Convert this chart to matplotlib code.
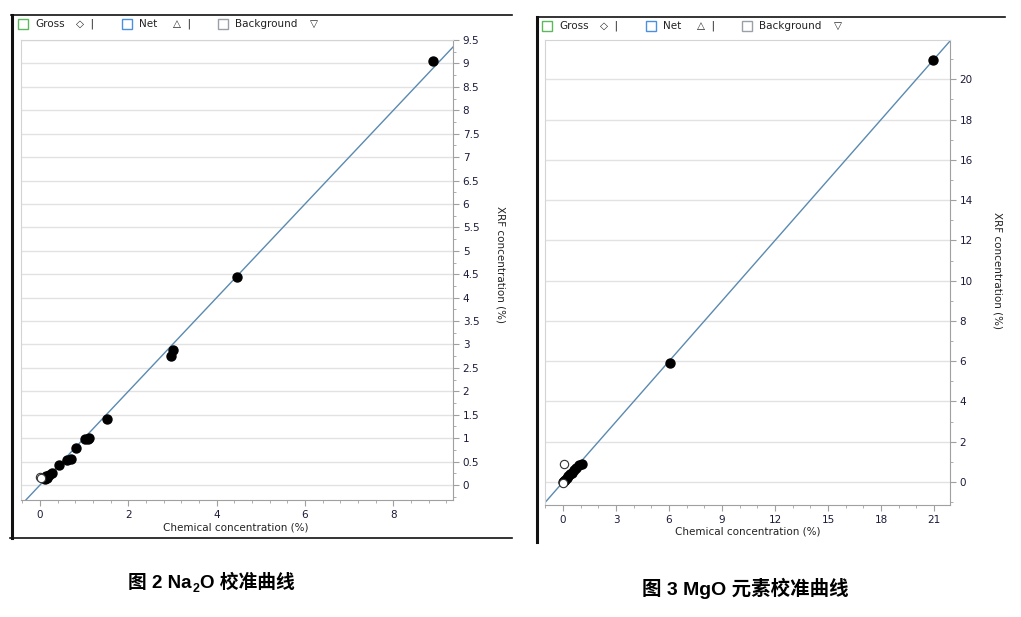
import matplotlib
matplotlib.use("Agg")
import matplotlib.pyplot as plt
from matplotlib.ticker import MultipleLocator, FormatStrFormatter
from matplotlib.patches import Rectangle
from matplotlib.lines import Line2D

W, H = 1021, 617

# Na2O calibration points (chemical %, XRF %)
na_x = [8.9, 4.46, 3.01, 2.96, 1.52, 1.02, 1.08, 1.1, 0.81, 0.7, 0.61, 0.43, 0.27, 0.2, 0.16, 0.11, 0.14]
na_y = [9.06, 4.44, 2.88, 2.76, 1.41, 0.98, 0.98, 1.0, 0.79, 0.56, 0.53, 0.43, 0.26, 0.21, 0.15, 0.13, 0.2]
na_open_x = [0.0, 0.03]
na_open_y = [0.17, 0.15]

# MgO calibration points
mg_x = [20.94, 6.06, 1.05, 0.9, 0.75, 0.6, 0.5, 0.4, 0.3, 0.2, 0.12, 0.05, 0.0]
mg_y = [20.95, 5.92, 0.88, 0.85, 0.7, 0.6, 0.45, 0.38, 0.3, 0.18, 0.1, 0.05, 0.02]
mg_open_x = [0.06, 0.02]
mg_open_y = [0.9, -0.05]

fit_slope = 1.0
fit_intercept = 0.0

# caption 1 is split in pieces: (text, size, baseline shift in px)
caption1_parts = [("图 2 Na", 13.5, 0), ("2", 9, -4), ("O 校准曲线", 13.5, 0)]
caption2 = "图 3 MgO 元素校准曲线"
legend_items = ["Gross", "Net", "Background"]

fig = plt.figure(figsize=(W / 100, H / 100), dpi=100)


def px_axes(l, t, r, b):
    return fig.add_axes([l / W, 1 - b / H, (r - l) / W, (b - t) / H])


def fx(x):
    return x / W


def fy(y):
    return 1 - y / H


def style_axes(ax, xlim, ylim, xmaj, xmin, ymaj, ymin):
    ax.set_xlim(*xlim)
    ax.set_ylim(*ylim)
    ax.xaxis.set_major_locator(MultipleLocator(xmaj))
    ax.xaxis.set_minor_locator(MultipleLocator(xmin))
    ax.yaxis.set_major_locator(MultipleLocator(ymaj))
    ax.yaxis.set_minor_locator(MultipleLocator(ymin))
    ax.xaxis.set_major_formatter(FormatStrFormatter("%g"))
    ax.yaxis.set_major_formatter(FormatStrFormatter("%g"))
    ax.yaxis.tick_right()
    ax.tick_params(which="both", direction="out", color="#a0a0a0", labelcolor="#1a1a3a", labelsize=7.5)
    ax.tick_params(which="major", length=4, pad=3)
    ax.tick_params(which="minor", length=2.5)
    ax.grid(axis="y", which="major", color="#e2e2e2", lw=1)
    ax.set_axisbelow(True)
    for s in ["top", "left"]:
        ax.spines[s].set_color("#d4d4d4")
    for s in ["right", "bottom"]:
        ax.spines[s].set_color("#a0a0a0")
    ax.axline((0, fit_intercept), slope=fit_slope, color="#5a8ab0", lw=1, zorder=2)


# ---- left panel: Na2O ----
ax1 = px_axes(21, 40, 453, 500)
style_axes(ax1, (-0.43, 9.35), (-0.32, 9.5), 2, 0.4, 0.5, 0.25)
ax1.scatter(na_x, na_y, s=42, color="black", zorder=3)
ax1.scatter(na_open_x, na_open_y, s=36, facecolor="white", edgecolor="#333333", lw=0.8, zorder=3)
fig.text(fx(500), fy(265), "XRF concentration (%)", rotation=270, ha="center", va="center", fontsize=7.5, color="#222222")
fig.text(fx(236), fy(527), "Chemical concentration (%)", ha="center", va="center", fontsize=7.5, color="#222222")

# ---- right panel: MgO ----
ax2 = px_axes(545, 40, 950, 505)
style_axes(ax2, (-1.02, 21.9), (-1.14, 21.95), 3, 1, 2, 1)
ax2.scatter(mg_x, mg_y, s=42, color="black", zorder=3)
ax2.scatter(mg_open_x, mg_open_y, s=36, facecolor="white", edgecolor="#333333", lw=0.8, zorder=3)
fig.text(fx(997), fy(270), "XRF concentration (%)", rotation=270, ha="center", va="center", fontsize=7.5, color="#222222")
fig.text(fx(748), fy(532), "Chemical concentration (%)", ha="center", va="center", fontsize=7.5, color="#222222")

# ---- frame lines around the screenshots ----
frame_kw = dict(color="#111111", transform=fig.transFigure)
fig.add_artist(Line2D([fx(11), fx(512)], [fy(15), fy(15)], lw=1.2, **frame_kw))
fig.add_artist(Line2D([fx(12), fx(12)], [fy(15), fy(538)], lw=2.2, **frame_kw))
fig.add_artist(Line2D([fx(10), fx(512)], [fy(538), fy(538)], lw=1.2, **frame_kw))
fig.add_artist(Line2D([fx(537), fx(1005)], [fy(17), fy(17)], lw=1.2, **frame_kw))
fig.add_artist(Line2D([fx(537), fx(537)], [fy(17), fy(542)], lw=2.2, **frame_kw))


# ---- legend header strips ----
def header(x0, y):
    colors = ["#5cb85c", "#4a90e2", "#9aa0a8"]
    offsets = [0, 104, 200]
    symbols = ["◇  |", "△  |", "▽"]
    sym_dx = [58, 51, 92]
    for name, c, off, sym, sdx in zip(legend_items, colors, offsets, symbols, sym_dx):
        fig.add_artist(Rectangle((fx(x0 + off), fy(y + 5)), 10 / W, 10 / H, fill=False,
                                 edgecolor=c, lw=1, transform=fig.transFigure))
        fig.text(fx(x0 + off + 17), fy(y), name, ha="left", va="center", fontsize=7.5, color="#222222")
        fig.text(fx(x0 + off + sdx), fy(y), sym, ha="left", va="center", fontsize=7.5, color="#222222")


header(18, 24)
header(542, 26)

# ---- captions ----
cap_font = ["Liberation Sans", "Noto Sans CJK SC", "DejaVu Sans"]
renderer = fig.canvas.get_renderer()

# caption 1 built piece by piece so the subscript 2 keeps the CJK fallback
x_cur = 128
base_y = 588
for txt, size, dy in caption1_parts:
    t = fig.text(fx(x_cur), fy(base_y - dy), txt, ha="left", va="baseline", fontsize=size,
                 fontweight="bold", family=cap_font)
    bb = t.get_window_extent(renderer)
    x_cur += bb.width + 1

fig.text(fx(745), fy(588), caption2, ha="center", va="center", fontsize=14, fontweight="bold", family=cap_font)

fig.savefig("out.png", dpi=100)
